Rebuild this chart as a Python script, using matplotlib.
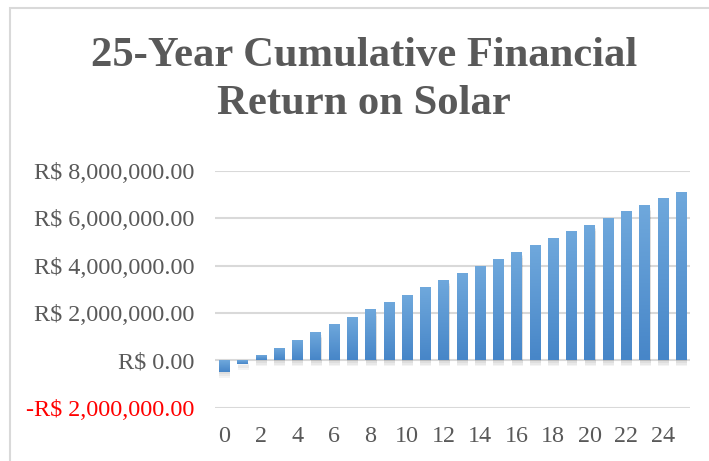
import numpy as np
import matplotlib.pyplot as plt
from matplotlib.patches import Rectangle
from matplotlib.colors import LinearSegmentedColormap

# ==========================================================================================
# Dados (retorno acumulado, R$)
anos = list(range(0, 26))
retorno = [-0.49e6, -0.16e6, 0.21e6, 0.51e6, 0.84e6, 1.18e6, 1.52e6, 1.81e6, 2.15e6,
           2.45e6, 2.74e6, 3.08e6, 3.38e6, 3.67e6, 3.97e6, 4.26e6, 4.56e6, 4.85e6,
           5.15e6, 5.44e6, 5.70e6, 5.99e6, 6.29e6, 6.54e6, 6.84e6, 7.09e6]
y_ticks = [-2e6, 0, 2e6, 4e6, 6e6, 8e6]
y_labels = ['-R$ 2,000,000.00', 'R$ 0.00', 'R$ 2,000,000.00', 'R$ 4,000,000.00',
            'R$ 6,000,000.00', 'R$ 8,000,000.00']
x_ticks = list(range(0, 25, 2))

titulo = '25-Year Cumulative Financial\nReturn on Solar'

# ==========================================================================================
plt.rcParams['font.family'] = ['Liberation Serif', 'DejaVu Serif']
cinza = '#595959'

fig = plt.figure(figsize=(7.09, 4.61), dpi=100)
# moldura do gráfico
fig.patches.append(Rectangle((10 / 709, -0.1), 1.2, (461 - 8) / 461 + 0.1,
                             transform=fig.transFigure, fill=False,
                             edgecolor='#D9D9D9', linewidth=1.5))

ax = fig.add_axes([215 / 709, 53.3 / 461, 475 / 709, 237 / 461])
ax.set_xlim(-0.5, 25.5)
ax.set_ylim(-2e6, 8e6)

ax.set_yticks(y_ticks)
ax.set_yticklabels(y_labels)
for lbl in ax.get_yticklabels():
    lbl.set_color('red' if lbl.get_text().startswith('-') else cinza)
ax.set_xticks(x_ticks)
ax.set_xticklabels([str(t) for t in x_ticks], color=cinza)
ax.tick_params(axis='both', length=0, labelsize=17.4)
ax.tick_params(axis='y', pad=15)
ax.tick_params(axis='x', pad=13)
for s in ax.spines.values():
    s.set_visible(False)

ax.set_axisbelow(True)
ax.grid(axis='y', color='#D9D9D9', linewidth=1.5)

# sombras
for dy in [0.1e6, 0.18e6, 0.26e6]:
    ax.bar(np.array(anos) + 0.04, retorno, width=0.6,
           bottom=-dy, color='#000000', alpha=0.045, zorder=1.5, linewidth=0)

# barras com gradiente
bars = ax.bar(anos, retorno, width=0.55, color='none', linewidth=0, zorder=2)
cmap = LinearSegmentedColormap.from_list('azul', ['#4786C8', '#6FA8DC'])
grad = np.linspace(0, 1, 100).reshape(-1, 1)
for b in bars:
    x0, y0 = b.get_x(), b.get_y()
    w, h = b.get_width(), b.get_height()
    y_lo, y_hi = min(y0, y0 + h), max(y0, y0 + h)
    im = ax.imshow(grad, cmap=cmap, aspect='auto', origin='lower',
                   extent=[x0, x0 + w, y_lo, y_hi], zorder=2.5, interpolation='bilinear')
    im.set_clip_path(b)

ax.set_xlim(-0.5, 25.5)
ax.set_ylim(-2e6, 8e6)

fig.text(364 / 709, 1 - 37 / 461, titulo, ha='center', va='top', fontsize=30.7,
         fontweight='bold', color=cinza, linespacing=1.33)

fig.savefig('out.png', dpi=100)
